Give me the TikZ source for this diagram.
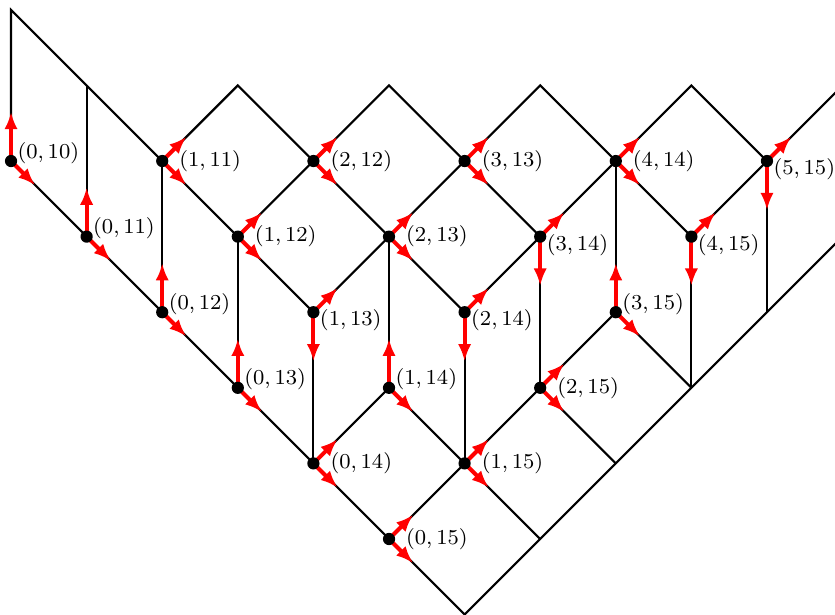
\documentclass[tikz,border=0pt]{standalone}
\usepackage{amsmath,amssymb}
\usepackage{tikz}
\usetikzlibrary{arrows.meta}

\begin{document}
\begin{tikzpicture}[
    dot/.style={circle, fill=black, inner sep=0pt, minimum size=4.6pt},
    flow/.style={red, line width=1.5pt, -{Latex[length=6.5pt, width=5pt]}},
    lbl/.style={anchor=west, inner sep=0pt, font=\footnotesize}
]
    \clip (-0.146,-6) rectangle (10.9,2.13);

    \draw[thick] (0,0) -- (0,2) -- (2,0) -- (3,1) -- (4,0) -- (5,1) -- (6,0) -- (7,1) -- (8,0) -- (9,1) -- (10,0) -- (11,1);
    \draw[thick] (0,0) -- (6,-6) -- (11,-1);
    \draw[thick] (3,-1) -- (4,0) -- (6,-2) -- (7,-1) -- (8,0) -- (9,-1) -- (10,0);
    \draw[thick] (2,0) -- (4,-2) -- (5,-1) -- (6,0) -- (7,-1);
    \draw[thick] (4,-4) -- (5,-3) -- (7,-5);
    \draw[thick] (5,-5) -- (8,-2) -- (9,-3);
    \draw[thick] (7,-3) -- (8,-4);
    \foreach \x/\ya/\yb in {1/1/-1, 2/0/-2, 3/-1/-3, 4/-2/-4, 5/-1/-3, 6/-2/-4, 7/-1/-3, 8/0/-2, 9/-1/-3, 10/0/-2}
        \draw[thick] (\x,\ya) -- (\x,\yb);

    % up and down-right
    \foreach \i/\j in {0/10, 0/11, 0/12, 0/13, 1/14, 3/15} {
        \coordinate (c\i-\j) at (\j-10+\i, \i+10-\j);
        \draw[flow] (c\i-\j) -- ++(0,0.65);
        \draw[flow] (c\i-\j) -- ++(0.32,-0.32);
        \node[dot] (p\i-\j) at (c\i-\j) {};
        \path (p\i-\j) ++(0.08,0.11) node[lbl] (l\i-\j) {$(\i,\j)$};
    }
    % up-right and down
    \foreach \i/\j in {1/13, 2/14, 3/14, 4/15, 5/15} {
        \coordinate (c\i-\j) at (\j-10+\i, \i+10-\j);
        \draw[flow] (c\i-\j) -- ++(0.32,0.32);
        \draw[flow] (c\i-\j) -- ++(0,-0.65);
        \node[dot] (p\i-\j) at (c\i-\j) {};
        \path (p\i-\j) ++(0.08,-0.11) node[lbl] (l\i-\j) {$(\i,\j)$};
    }
    % up-right and down-right
    \foreach \i/\j in {1/11, 1/12, 2/12, 2/13, 3/13, 4/14, 0/14, 0/15, 1/15, 2/15} {
        \coordinate (c\i-\j) at (\j-10+\i, \i+10-\j);
        \draw[flow] (c\i-\j) -- ++(0.32,0.32);
        \draw[flow] (c\i-\j) -- ++(0.32,-0.32);
        \node[dot] (p\i-\j) at (c\i-\j) {};
        \path (p\i-\j) ++(0.22,0) node[lbl] (l\i-\j) {$(\i,\j)$};
    }
\end{tikzpicture}
\end{document}
